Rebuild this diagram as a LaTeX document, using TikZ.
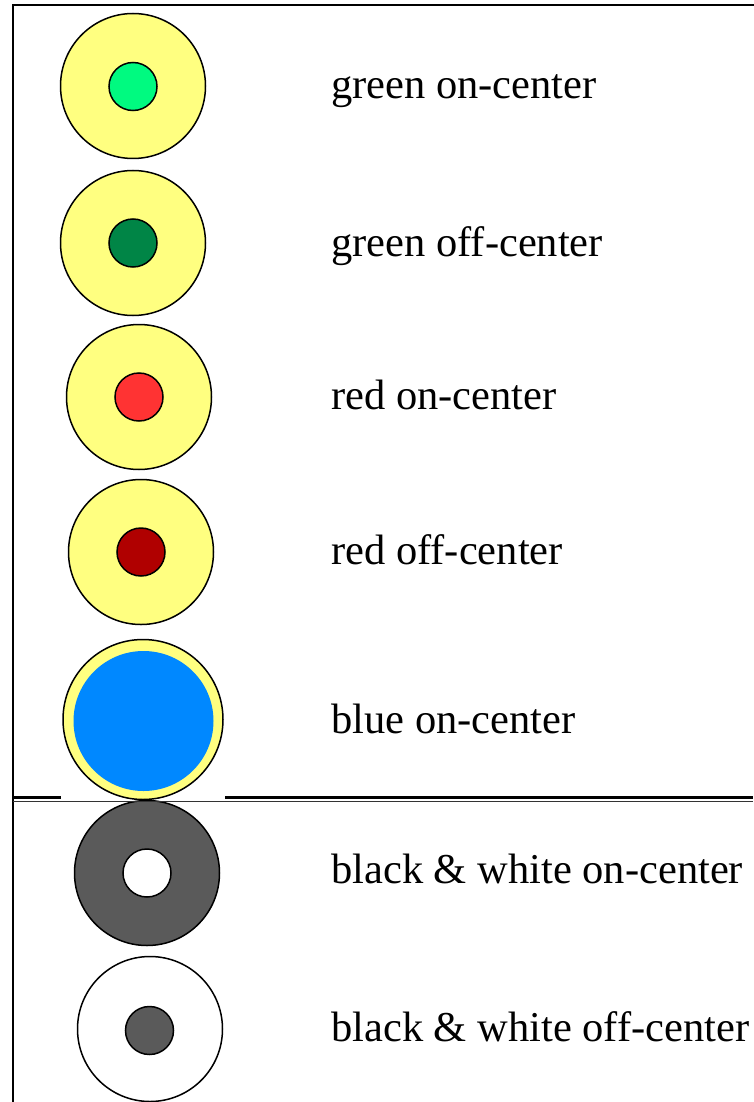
\documentclass[tikz,border=0pt]{standalone}
\usepackage{fontspec}
\setmainfont{Liberation Serif}
\definecolor{ylw}{HTML}{FFFF80}
\definecolor{gon}{HTML}{00FA80}
\definecolor{goff}{HTML}{008546}
\definecolor{ron}{HTML}{FF3333}
\definecolor{roff}{HTML}{B00000}
\definecolor{bon}{HTML}{0088FF}
\definecolor{gry}{HTML}{5A5A5A}
\tikzset{
  outerc/.style={circle, draw=black, line width=1.5pt, minimum size=145pt, inner sep=0pt},
  innerc/.style={circle, draw=black, line width=1.5pt, minimum size=48pt, inner sep=0pt},
  lbl/.style={anchor=base west, inner sep=0pt, font=\fontsize{42.5}{50}\selectfont},
  frame/.style={line width=2.6pt, line cap=rect}
}
\begin{document}
\begin{tikzpicture}[x=1pt,y=-1pt]
\useasboundingbox (0,0) rectangle (753,1102);
% frame
\coordinate (tl) at (13,5);
\coordinate (tr) at (753,5);
\coordinate (bl) at (13,1102);
\draw[frame] (tr) -- (tl) -- (bl);
% circles
\node[outerc, fill=ylw] (o1) at (133,86) {};
\node[innerc, fill=gon] (i1) at (133,86.5) {};
\node[outerc, fill=ylw] (o2) at (133,243) {};
\node[innerc, fill=goff] (i2) at (133,243) {};
\node[outerc, fill=ylw] (o3) at (139,397) {};
\node[innerc, fill=ron] (i3) at (139,397) {};
\node[outerc, fill=ylw] (o4) at (141,552) {};
\node[innerc, fill=roff] (i4) at (141,552) {};
\node[circle, draw=black, line width=1.5pt, minimum size=160pt, inner sep=0pt, fill=ylw] (o5) at (143,719.5) {};
\node[circle, inner sep=0pt, minimum size=140pt, fill=bon] (i5) at (143.5,721) {};
\node[outerc, fill=gry] (o6) at (147,873) {};
\node[innerc, fill=white] (i6) at (147,873) {};
\node[outerc, fill=white] (o7) at (150,1029) {};
\node[innerc, fill=gry] (i7) at (149.5,1030.5) {};
% divider
\coordinate (d1) at (13,797.5);
\coordinate (d2) at (61,797.5);
\coordinate (d3) at (225,797.5);
\coordinate (d4) at (753,797.5);
\coordinate (e1) at (13,801);
\coordinate (e2) at (753,801);
\draw[line width=2.6pt] (d1) -- (d2);
\draw[line width=2.6pt] (d3) -- (d4);
\draw[line width=1pt, black!80] (e1) -- (e2);
% labels
\node[lbl] (t1) at (331,98.5) {green on-center};
\node[lbl] (t2) at (331,256.5) {green off-center};
\node[lbl] (t3) at (331,409.5) {red on-center};
\node[lbl] (t4) at (331,564) {red off-center};
\node[lbl] (t5) at (331,733) {blue on-center};
\node[lbl] (t6) at (331,883) {black \& white on-center};
\node[lbl] (t7) at (331,1041) {black \& white off-center};
\end{tikzpicture}
\end{document}
